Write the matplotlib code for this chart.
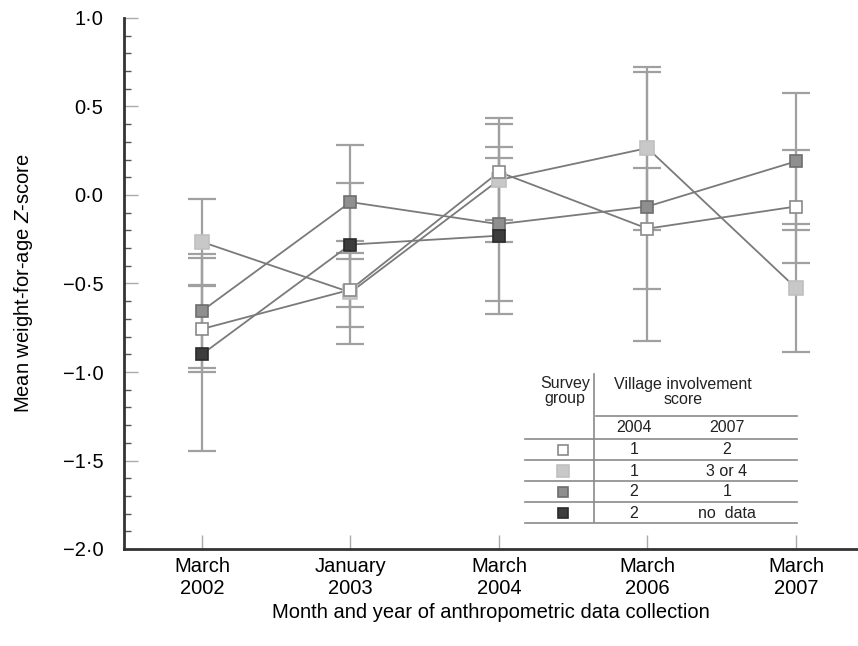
import numpy as np
import matplotlib
matplotlib.use("Agg")
import matplotlib.pyplot as plt
from matplotlib.ticker import MultipleLocator, FuncFormatter

plt.rcParams['font.family'] = ['Liberation Sans', 'DejaVu Sans']
plt.rcParams['mathtext.fontset'] = 'custom'
plt.rcParams['mathtext.it'] = 'Liberation Sans:italic'
plt.rcParams['mathtext.rm'] = 'Liberation Sans'

# data
dates = ['March\n2002', 'January\n2003', 'March\n2004', 'March\n2006', 'March\n2007']

open_mean = [-0.757, -0.535, 0.13, -0.19, -0.065]
open_err = [0.245, 0.21, 0.27, 0.34, 0.32]

light_mean = [-0.265, -0.55, 0.085, 0.265, -0.525]
light_err = [0.245, 0.29, 0.35, 0.46, 0.36]

mid_mean = [-0.655, -0.04, -0.165, -0.065, 0.19]
mid_err = [0.32, 0.32, 0.435, 0.76, 0.385]

dark_mean = [-0.90, -0.28, -0.23, np.nan, np.nan]
dark_err = [0.545, 0.35, 0.44, np.nan, np.nan]

vis_2004 = ['1', '1', '2', '2']
vis_2007 = ['2', '3 or 4', '1', 'no  data']

series = [
    # mean, err, face, edge, size
    (light_mean, light_err, '#c8c8c8', '#c0c0c0', 10.5),
    (mid_mean, mid_err, '#8f8f8f', '#6e6e6e', 9),
    (dark_mean, dark_err, '#3d3d3d', '#2a2a2a', 9),
    (open_mean, open_err, 'white', '#8a8a8a', 9),
]
legend_order = [3, 0, 1, 2]

W, H = 858, 646
fig = plt.figure(figsize=(W / 100, H / 100), dpi=100)
ax = fig.add_axes([124 / W, 97 / H, 734 / W, 531 / H])

x = np.arange(len(dates))

for m, e, fc, ec, ms in series:
    ax.errorbar(x, m, yerr=e, fmt='none', ecolor='#a0a0a0', elinewidth=1.6,
                capsize=10, capthick=1.6, zorder=1)
for m, e, fc, ec, ms in series:
    ax.plot(x, m, color='#7a7a7a', lw=1.3, zorder=2)
for m, e, fc, ec, ms in series:
    ax.plot(x, m, ls='none', marker='s', ms=ms, mfc=fc, mec=ec, mew=1.2, zorder=3)

ax.set_xlim(-0.525, 4.418)
ax.set_ylim(-2.0, 1.0)
ax.set_xticks(x)
ax.set_xticklabels(dates, fontsize=14.5, linespacing=1.2)
ax.yaxis.set_major_locator(MultipleLocator(0.5))
ax.yaxis.set_minor_locator(MultipleLocator(0.1))
ax.yaxis.set_major_formatter(FuncFormatter(
    lambda v, p: ('%.1f' % v).replace('-', '\u2212').replace('.', '\u00b7')))
ax.tick_params(axis='y', which='major', direction='in', length=10, width=1,
               color='#aaaaaa', labelsize=14.5, pad=15)
ax.tick_params(axis='y', which='minor', direction='in', length=5, width=1,
               color='#555555')
ax.tick_params(axis='x', which='major', direction='in', length=10, width=1,
               color='#aaaaaa', pad=6)

for s in ['top', 'right']:
    ax.spines[s].set_visible(False)
for s in ['left', 'bottom']:
    ax.spines[s].set_color('#333333')
    ax.spines[s].set_linewidth(2)

ax.set_xlabel('Month and year of anthropometric data collection', fontsize=14.5,
              labelpad=3)
ax.set_ylabel(r'Mean weight-for-age $Z$-score', fontsize=14.5, labelpad=20)


# key table, positioned in pixel terms of the figure
def T(px, py):
    return ((px - 124) / 734, (549 - py) / 531)


def hline(x0, x1, y):
    a, b = T(x0, y), T(x1, y)
    ax.plot([a[0], b[0]], [a[1], b[1]], transform=ax.transAxes, color='#8a8a8a',
            lw=1.2, clip_on=False, zorder=4)


tcol = '#222222'
fs = 11.5
a, b = T(594, 374), T(594, 522)
ax.plot([a[0], b[0]], [a[1], b[1]], transform=ax.transAxes, color='#8a8a8a',
        lw=1.2, clip_on=False, zorder=4)
ax.text(*T(565, 391), 'Survey\ngroup', transform=ax.transAxes, ha='center',
        va='center', fontsize=fs, linespacing=1.0, color=tcol)
ax.text(*T(683, 392), 'Village involvement\nscore', transform=ax.transAxes,
        ha='center', va='center', fontsize=fs, linespacing=1.0, color=tcol)
hline(596, 797, 416)
ax.text(*T(634, 428), '2004', transform=ax.transAxes, ha='center', va='center',
        fontsize=fs, color=tcol)
ax.text(*T(727, 428), '2007', transform=ax.transAxes, ha='center', va='center',
        fontsize=fs, color=tcol)
for i in range(5):
    hline(525, 797, 439 + 21 * i)
for i, k in enumerate(legend_order):
    m, e, fc, ec, ms = series[k]
    yy = 450 + 21 * i
    ax.plot(*T(563, yy), marker='s', ms=ms * 0.8, mfc=fc, mec=ec, mew=1.2,
            transform=ax.transAxes, clip_on=False, zorder=5)
    ax.text(*T(634, yy), vis_2004[i], transform=ax.transAxes, ha='center',
            va='center', fontsize=fs, color=tcol)
    ax.text(*T(727, yy), vis_2007[i], transform=ax.transAxes, ha='center',
            va='center', fontsize=fs, color=tcol)

fig.savefig('out.png', dpi=100)
